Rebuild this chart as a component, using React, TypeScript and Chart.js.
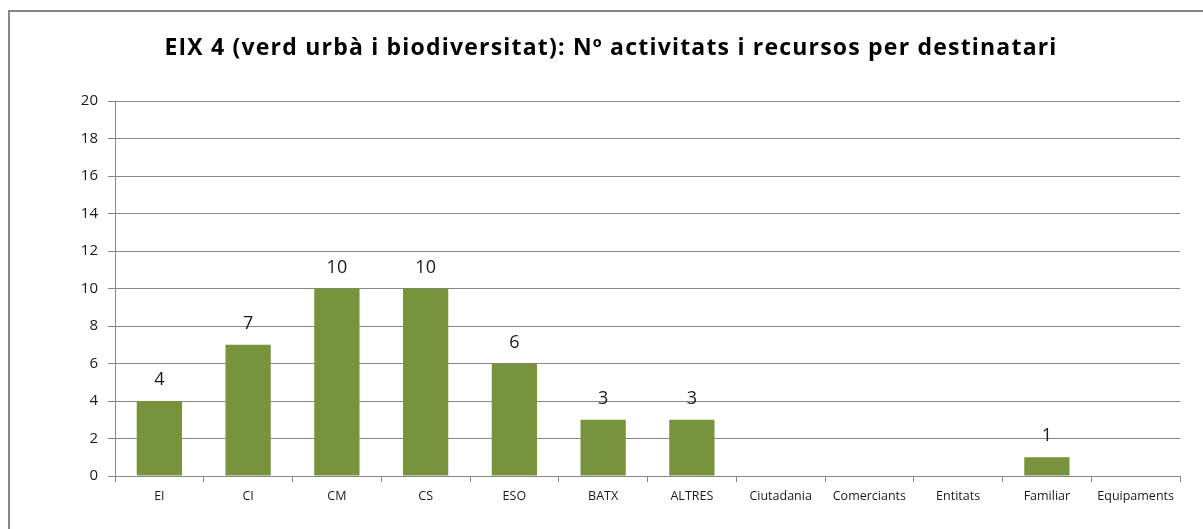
import React, { useEffect, useRef } from "react";
import { Chart, registerables } from "chart.js";

Chart.register(...registerables);

const categories = ["EI", "CI", "CM", "CS", "ESO", "BATX", "ALTRES", "Ciutadania", "Comerciants", "Entitats", "Familiar", "Equipaments"];
const values = [4, 7, 10, 10, 6, 3, 3, 0, 0, 0, 1, 0];
const titleText = "EIX 4 (verd urbà i biodiversitat): Nº activitats i recursos per destinatari";

const FONT = "'Open Sans', Lato, sans-serif";

const frame = {
  id: "frame",
  beforeDraw(chart: any) {
    const { ctx } = chart;
    ctx.save();
    ctx.fillStyle = "#ffffff";
    ctx.fillRect(0, 0, chart.width, chart.height);
    ctx.strokeStyle = "#878787";
    ctx.lineWidth = 2;
    ctx.strokeRect(9, 11, chart.width + 20, chart.height + 20);
    ctx.restore();
  },
  afterDraw(chart: any) {
    const { ctx } = chart;
    ctx.save();
    ctx.font = "bold 23px " + FONT;
    (ctx as any).letterSpacing = "1.2px";
    ctx.fillStyle = "#000000";
    ctx.textAlign = "center";
    ctx.textBaseline = "alphabetic";
    ctx.fillText(titleText, 611, 54.5);
    ctx.restore();
  },
};

const valueLabels = {
  id: "valueLabels",
  afterDatasetsDraw(chart: any) {
    const { ctx } = chart;
    const meta = chart.getDatasetMeta(0);
    ctx.save();
    ctx.font = "18px " + FONT;
    ctx.fillStyle = "#1a1a1a";
    ctx.textAlign = "center";
    ctx.textBaseline = "middle";
    meta.data.forEach((bar: any, i: number) => {
      const v = values[i];
      if (v > 0) ctx.fillText(String(v), bar.x, bar.y - 21);
    });
    ctx.restore();
  },
};

export default function App() {
  const ref = useRef<HTMLCanvasElement | null>(null);
  useEffect(() => {
    document.body.style.margin = "0";
    const chart = new Chart(ref.current as HTMLCanvasElement, {
      type: "bar",
      data: {
        labels: categories,
        datasets: [
          {
            data: values,
            backgroundColor: "#77933C",
            borderWidth: 0,
            categoryPercentage: 1,
            barPercentage: 0.51,
          },
        ],
      },
      options: {
        animation: false,
        responsive: false,
        maintainAspectRatio: false,
        layout: { padding: { left: 0, right: 23, top: 101, bottom: 0 } },
        plugins: {
          legend: { display: false },
          tooltip: { enabled: false },
          title: { display: false },
        },
        scales: {
          x: {
            grid: {
              display: true,
              drawOnChartArea: false,
              drawTicks: true,
              tickLength: 6,
              color: "#878787",
              offset: true,
            },
            border: { display: true, color: "#878787", width: 1 },
            ticks: {
              color: "#1a1a1a",
              font: { family: FONT, size: 12.5 },
              padding: 7,
              maxRotation: 0,
              autoSkip: false,
            },
            afterFit(scale: any) {
              scale.height = 53;
            },
          },
          y: {
            min: 0,
            max: 20,
            ticks: {
              stepSize: 2,
              color: "#1a1a1a",
              font: { family: FONT, size: 15 },
              padding: 10,
            },
            grid: { color: "#878787", tickLength: 7 },
            border: { display: true, color: "#878787", width: 1 },
            afterFit(scale: any) {
              scale.width = 115;
            },
          },
        },
      },
      plugins: [frame, valueLabels],
    });
    return () => chart.destroy();
  }, []);
  return <canvas ref={ref} width={1203} height={529} style={{ display: "block" }} />;
}
